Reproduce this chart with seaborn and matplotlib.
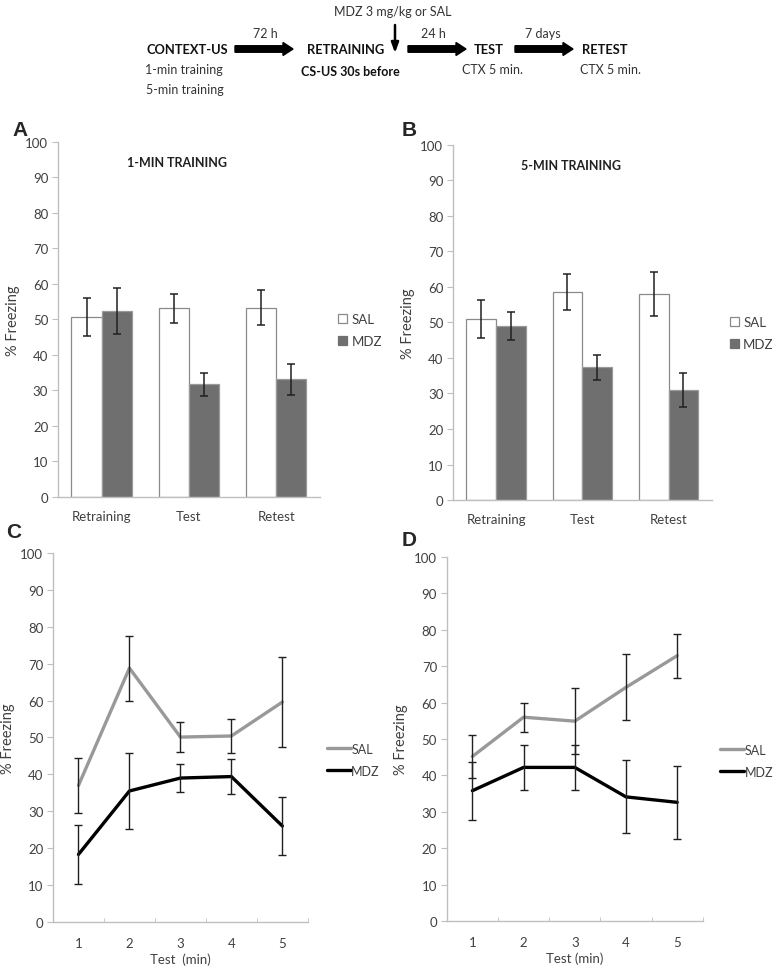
import matplotlib
matplotlib.use("Agg")
import matplotlib.pyplot as plt
from matplotlib.patches import FancyArrow, Patch
import pandas as pd
import seaborn as sns

# bar panels (A = 1-min training, B = 5-min training)
phases = ["Retraining", "Test", "Retest"]
a_sal = [50.7, 53.1, 53.3]
a_sal_err = [5.3, 4.0, 4.9]
a_mdz = [52.4, 31.7, 33.2]
a_mdz_err = [6.5, 3.3, 4.4]
b_sal = [51.0, 58.6, 58.0]
b_sal_err = [5.4, 5.1, 6.2]
b_mdz = [49.0, 37.4, 31.0]
b_mdz_err = [3.9, 3.5, 4.8]

# line panels (C, D): freezing per minute of test
minutes = [1, 2, 3, 4, 5]
c_sal = [37.0, 68.8, 50.1, 50.4, 59.6]
c_sal_err = [7.5, 8.8, 4.0, 4.6, 12.2]
c_mdz = [18.3, 35.5, 39.0, 39.4, 26.0]
c_mdz_err = [7.9, 10.2, 3.7, 4.7, 7.8]
d_sal = [45.2, 56.0, 54.9, 64.2, 72.9]
d_sal_err = [6.0, 4.0, 9.1, 9.1, 6.0]
d_mdz = [35.8, 42.2, 42.2, 34.1, 32.6]
d_mdz_err = [8.0, 6.1, 6.1, 10.0, 10.0]

groups = ["SAL", "MDZ"]
bar_colors = {"SAL": "white", "MDZ": "#6f6f6f"}
bar_edges = {"SAL": "#8a8a8a", "MDZ": "#9a9a9a"}
line_colors = {"SAL": "#999999", "MDZ": "#000000"}

SPINE = "#bfbfbf"
TXT = "#404040"

sns.set_style("white")
plt.rcParams["font.family"] = ["Lato", "DejaVu Sans"]


def style_axes(ax):
    sns.despine(ax=ax)
    for s in ["left", "bottom"]:
        ax.spines[s].set_color(SPINE)
        ax.spines[s].set_linewidth(1.0)
    ax.set_ylim(0, 100)
    ax.set_yticks(range(0, 101, 10))
    ax.tick_params(axis="y", left=True, length=4, color=SPINE, labelsize=9.5,
                   labelcolor=TXT, pad=3)
    ax.tick_params(axis="x", labelsize=9.5, labelcolor=TXT)
    ax.set_ylabel("% Freezing", fontsize=10.5, color=TXT)


def bar_panel(ax, sal, sal_err, mdz, mdz_err, title):
    df = pd.DataFrame({
        "phase": phases * 2,
        "group": ["SAL"] * 3 + ["MDZ"] * 3,
        "freezing": sal + mdz,
    })
    sns.barplot(data=df, x="phase", y="freezing", hue="group", order=phases,
                hue_order=groups, palette=bar_colors, width=0.69, gap=0,
                errorbar=None, legend=False, ax=ax)
    for cont, g, errs in zip(ax.containers, groups, [sal_err, mdz_err]):
        xs, ys = [], []
        for p in cont:
            p.set_edgecolor(bar_edges[g])
            p.set_linewidth(0.9)
            xs.append(p.get_x() + p.get_width() / 2)
            ys.append(p.get_height())
        ax.errorbar(xs, ys, yerr=errs, fmt="none", ecolor="#202020",
                    elinewidth=1.1, capsize=3, capthick=1.1)
    style_axes(ax)
    ax.set_xlim(-0.5, 2.5)
    ax.set_xlabel("")
    ax.tick_params(axis="x", bottom=False, pad=6)
    ax.text(0.455, 0.945, title, transform=ax.transAxes, ha="center",
            va="center", fontsize=9, fontweight="bold", color="#202020")
    handles = [Patch(facecolor=bar_colors[g],
                     edgecolor=bar_edges[g] if g == "SAL" else bar_colors[g],
                     linewidth=0.9, label=g) for g in groups]
    ax.legend(handles=handles, loc="center left", bbox_to_anchor=(1.07, 0.47),
              frameon=False, fontsize=9.5, handlelength=0.7, handleheight=0.7,
              handletextpad=0.3, labelspacing=0.8, labelcolor=TXT,
              borderpad=0, borderaxespad=0)


def line_panel(ax, sal, sal_err, mdz, mdz_err, xlabel, leg_x):
    df = pd.DataFrame({
        "minute": minutes * 2,
        "group": ["SAL"] * 5 + ["MDZ"] * 5,
        "freezing": sal + mdz,
    })
    sns.lineplot(data=df, x="minute", y="freezing", hue="group",
                 hue_order=groups, palette=line_colors, linewidth=2.4, ax=ax)
    for vals, errs in [(sal, sal_err), (mdz, mdz_err)]:
        ax.errorbar(minutes, vals, yerr=errs, fmt="none", ecolor="#202020",
                    elinewidth=1.0, capsize=3, capthick=1.0)
    style_axes(ax)
    ax.set_xlim(0.5, 5.5)
    ax.set_xticks(minutes)
    ax.set_xticks([1.5, 2.5, 3.5, 4.5, 5.5], minor=True)
    ax.tick_params(axis="x", which="major", bottom=False, pad=7)
    ax.tick_params(axis="x", which="minor", bottom=True, direction="in",
                   length=3, color=SPINE)
    ax.set_xlabel(xlabel, fontsize=9.5, color=TXT, labelpad=3)
    sns.move_legend(ax, "center left", bbox_to_anchor=(leg_x, 0.44),
                    frameon=False, title=None, fontsize=9, handlelength=1.9,
                    handletextpad=0.05, labelspacing=0.8, labelcolor=TXT,
                    borderpad=0, borderaxespad=0)


fig = plt.figure(figsize=(7.77, 9.7), dpi=100)

axA = fig.add_axes([0.0746, 0.4866, 0.337, 0.366])
axB = fig.add_axes([0.583, 0.4835, 0.333, 0.366])
axC = fig.add_axes([0.0682, 0.0485, 0.328, 0.3804])
axD = fig.add_axes([0.575, 0.0495, 0.3295, 0.3752])

bar_panel(axA, a_sal, a_sal_err, a_mdz, a_mdz_err, "1-MIN TRAINING")
bar_panel(axB, b_sal, b_sal_err, b_mdz, b_mdz_err, "5-MIN TRAINING")
line_panel(axC, c_sal, c_sal_err, c_mdz, c_mdz_err, "Test  (min)", 1.075)
line_panel(axD, d_sal, d_sal_err, d_mdz, d_mdz_err, "Test (min)", 1.068)

# panel letters
for lab, x, y in [("A", 12, 130), ("B", 402, 130), ("C", 6, 532), ("D", 402, 540)]:
    fig.text(x / 777, 1 - y / 970, lab, fontsize=15, fontweight="bold",
             family=["Liberation Sans", "DejaVu Sans"], va="center", ha="left")

# protocol diagram on top (pixel coordinates)
top = fig.add_axes([0, 1 - 110 / 970, 1, 110 / 970])
top.set_xlim(0, 777)
top.set_ylim(110, 0)
top.axis("off")

for x0, x1 in [(235, 293), (408, 466), (515, 573)]:
    top.add_patch(FancyArrow(x0, 50, x1 - x0, 0, width=6.5, head_width=13,
                             head_length=10, length_includes_head=True,
                             color="black"))
top.annotate("", xy=(395, 54), xytext=(395, 26),
             arrowprops=dict(arrowstyle="-|>,head_width=0.22,head_length=0.6",
                             lw=1.8, color="black", shrinkA=0, shrinkB=0))

big = dict(fontsize=9.3, fontweight="bold", ha="center", va="center",
           color="#111111")
small = dict(fontsize=9, ha="center", va="center", color="#333333")
top.text(187, 50, "CONTEXT-US", **big)
top.text(346, 50, "RETRAINING", **big)
top.text(489, 50, "TEST", **big)
top.text(605, 50, "RETEST", **big)
top.text(393, 12, "MDZ 3 mg/kg or SAL", **small)
top.text(265, 34, "72 h", **small)
top.text(433, 34, "24 h", **small)
top.text(543, 34, "7 days", **small)
top.text(184, 70, "1-min training", **small)
top.text(185, 90, "5-min training", **small)
top.text(350, 72, "CS-US 30s before", fontsize=9, fontweight="bold",
         ha="center", va="center", color="#111111")
top.text(492, 70, "CTX 5 min.", **small)
top.text(611, 70, "CTX 5 min.", **small)

fig.savefig("out.png", dpi=100)
